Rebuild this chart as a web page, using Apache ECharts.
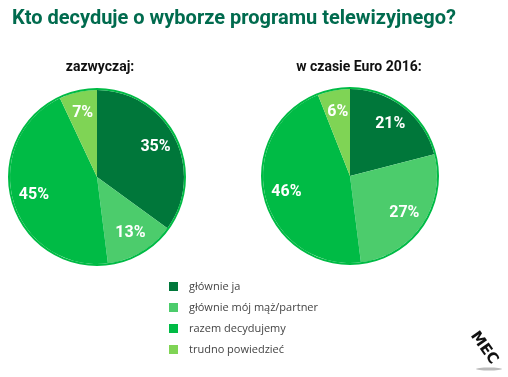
<!DOCTYPE html>
<html>
<head>
<meta charset="utf-8">
<script src="https://cdn.jsdelivr.net/npm/echarts@6/dist/echarts.min.js"></script>
<style>
  html, body { margin: 0; padding: 0; background: #fff; }
  #chart { width: 508px; height: 377px; }
</style>
</head>
<body>
<div id="chart"></div>
<script>
(function() {
    const categories = ['głównie ja', 'głównie mój mąż/partner', 'razem decydujemy', 'trudno powiedzieć'];
    const usualValues = [35, 13, 45, 7];
    const euroValues = [21, 27, 46, 6];
    const pieTitles = ['zazwyczaj:', 'w czasie Euro 2016:'];
    const colors = ['#00773a', '#4ccc6c', '#00bb45', '#7fd455'];

    const chart = echarts.init(document.getElementById('chart'), null, { renderer: 'canvas' });

    const R = 87;
    const centers = [[97, 177], [350, 176]];

    // main pie (no labels) + transparent overlay for label placement + outer ring
    const makePie = (values, center) => [
        {
            type: 'pie',
            center: center,
            radius: [0, R],
            startAngle: 90,
            clockwise: true,
            silent: true,
            label: { show: false },
            labelLine: { show: false },
            data: values.map((v, i) => ({ name: categories[i], value: v, itemStyle: { color: colors[i] } }))
        },
        {
            type: 'pie',
            center: center,
            radius: [R * 0.44, R],
            startAngle: 90,
            silent: true,
            itemStyle: { color: 'transparent' },
            label: {
                show: true,
                position: 'inside',
                formatter: '{c}%',
                color: '#fff',
                fontFamily: 'Roboto',
                fontWeight: 'bold',
                fontSize: 16
            },
            labelLine: { show: false },
            data: values.map((v, i) => ({ name: 'lbl' + i, value: v }))
        },
        {
            type: 'pie',
            center: center,
            radius: [R, R + 2],
            silent: true,
            label: { show: false },
            itemStyle: { color: '#00bb45' },
            data: [{ name: 'ring', value: 1 }]
        }
    ];

    const option = {
        animation: false,
        backgroundColor: '#fff',
        title: [
            {
                text: 'Kto decyduje o wyborze programu telewizyjnego?',
                left: 7, top: 4,
                textStyle: { color: '#006b4e', fontFamily: 'Roboto', fontWeight: 'bold', fontSize: 20 }
            },
            {
                text: pieTitles[0],
                left: 95, top: 55, textAlign: 'center',
                textStyle: { color: '#111', fontFamily: 'Roboto', fontWeight: 'bold', fontSize: 14 }
            },
            {
                text: pieTitles[1],
                left: 354, top: 55, textAlign: 'center',
                textStyle: { color: '#111', fontFamily: 'Roboto', fontWeight: 'bold', fontSize: 14 }
            }
        ],
        color: colors,
        legend: {
            orient: 'vertical',
            left: 164,
            top: 276,
            itemWidth: 9,
            itemHeight: 9,
            itemGap: 10,
            icon: 'rect',
            data: categories,
            selectedMode: false,
            textStyle: { color: '#444', fontFamily: 'Open Sans', fontSize: 11, padding: [0, 0, 0, 6] }
        },
        graphic: [
            {
                type: 'text',
                x: 484, y: 348,
                rotation: -0.95,
                style: {
                    text: 'MEC',
                    fill: '#111',
                    font: 'bold 15px "DejaVu Sans"',
                    align: 'center',
                    verticalAlign: 'middle'
                }
            },
            {
                type: 'ellipse',
                shape: { cx: 489, cy: 369, rx: 13, ry: 1.5 },
                style: { fill: '#bbb' }
            }
        ],
        series: [
            ...makePie(usualValues, centers[0]),
            ...makePie(euroValues, centers[1])
        ]
    };

    chart.setOption(option);
})();
</script>
</body>
</html>
